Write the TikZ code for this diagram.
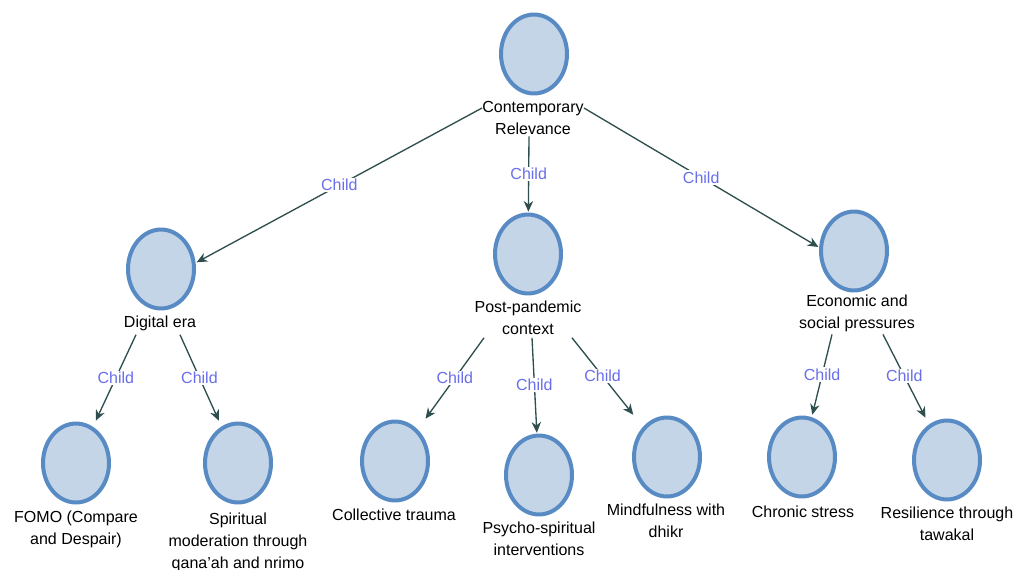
\documentclass[tikz,border=0pt]{standalone}
\usepackage{fontspec}
\setmainfont{Liberation Sans}
\usetikzlibrary{arrows.meta}
\definecolor{nodefill}{RGB}{197,213,232}
\definecolor{nodeline}{RGB}{88,138,196}
\definecolor{edgecol}{RGB}{47,79,79}
\definecolor{childcol}{RGB}{105,110,235}
\tikzset{
  concept/.style={rectangle, inner sep=0pt, minimum width=53pt, minimum height=63pt,
    path picture={\draw[draw=nodeline, fill=nodefill, line width=3pt]
      (path picture bounding box.center) ellipse [x radius=24.75pt, y radius=29.6pt];}},
  caption/.style={align=center, inner sep=0pt, font=\fontsize{12pt}{16.5pt}\selectfont, text=black},
  link/.style={draw=edgecol, line width=1pt, -{Stealth[length=8pt,width=7pt,inset=2.5pt]}},
  childlab/.style={fill=white, inner sep=1pt, text=childcol, font=\fontsize{12pt}{14pt}\selectfont}
}
\begin{document}
\begin{tikzpicture}[x=0.75pt,y=-0.75pt]
\useasboundingbox[fill=white] (0,0) rectangle (1018,569);
% concept circles
\node[concept] (root) at (534,54) {};
\node[concept] (dig) at (161,269) {};
\node[concept] (post) at (528,254) {};
\node[concept] (econ) at (854,251) {};
\node[concept] (fomo) at (76,463) {};
\node[concept] (spir) at (238,463) {};
\node[concept] (coll) at (395,461) {};
\node[concept] (psy) at (539,475) {};
\node[concept] (mind) at (667,457) {};
\node[concept] (chr) at (802,457) {};
\node[concept] (res) at (947,460) {};
% captions
\node[caption] (rootlab) at (533,118) {Contemporary\\Relevance};
\node[caption] (diglab) at (160,323) {Digital era};
\node[caption] (postlab) at (528,318) {Post-pandemic\\context};
\node[caption] (econlab) at (857,313) {Economic and\\social pressures};
\node[caption] (fomolab) at (76,529) {FOMO (Compare\\and Despair)};
\node[caption] (spirlab) at (238,542) {Spiritual\\moderation through\\qana’ah and nrimo};
\node[caption] (colllab) at (394,515) {Collective trauma};
\node[caption] (psylab) at (539,539) {Psycho-spiritual\\interventions};
\node[caption] (mindlab) at (666,521) {Mindfulness with\\dhikr};
\node[caption] (chrlab) at (803,512) {Chronic stress};
\node[caption] (reslab) at (947,524) {Resilience through\\tawakal};
% connectors
\draw[link] ([yshift=7.5pt]rootlab.west) -- node[childlab]{Child} ([yshift=5pt]dig.east);
\draw[link] ([xshift=-3pt,yshift=-1pt]rootlab.south) -- node[childlab]{Child} (post);
\draw[link] ([yshift=7.5pt]rootlab.east) -- node[childlab]{Child} ([yshift=3pt]econ.west);
\draw[link] ([xshift=-18pt,yshift=-3pt]diglab.south) -- node[childlab]{Child} (fomo);
\draw[link] ([xshift=15pt,yshift=-3pt]diglab.south) -- node[childlab]{Child} (spir);
\draw[link] ([xshift=-33pt,yshift=-2pt]postlab.south) -- node[childlab]{Child} (coll);
\draw[link] ([xshift=3pt,yshift=-2pt]postlab.south) -- node[childlab]{Child} (psy);
\draw[link] ([xshift=33pt,yshift=-2pt]postlab.south) -- node[childlab]{Child} (mind);
\draw[link] ([xshift=-18.75pt,yshift=-2pt]econlab.south) -- node[childlab]{Child} (chr);
\draw[link] ([xshift=19.5pt,yshift=-2pt]econlab.south) -- node[childlab]{Child} (res);
\end{tikzpicture}
\end{document}
